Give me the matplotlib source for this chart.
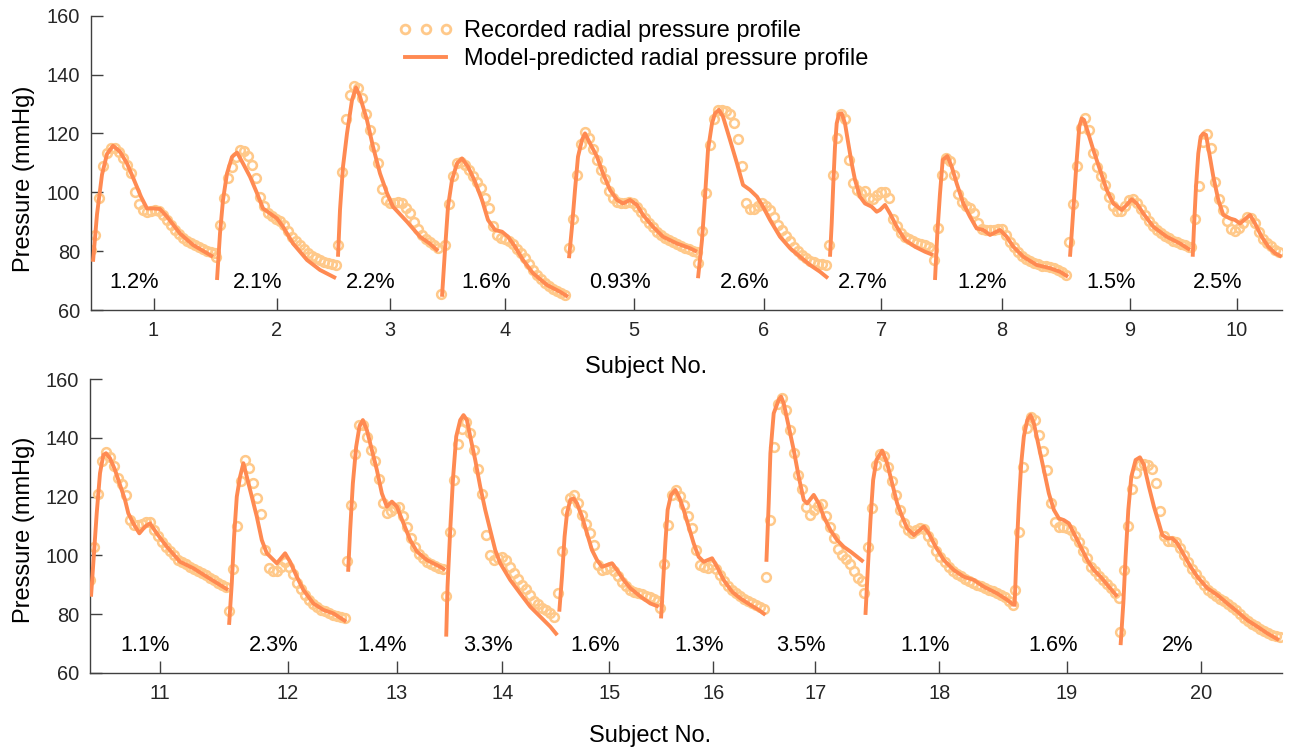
import numpy as np
import matplotlib.pyplot as plt
from matplotlib.lines import Line2D

plt.rcParams['font.family'] = ['Liberation Sans', 'DejaVu Sans']

FS = 150.0      # samples per second
REC_STEP = 4    # recorded profile kept every 4th sample

REC_COLOR = '#FFC98A'
MOD_COLOR = '#FF8A52'
INK = '#262626'

# ---------------- top row, subjects 1-10
subjects_top = [1, 2, 3, 4, 5, 6, 7, 8, 9, 10]
periods_top = [125, 122, 103, 128, 129, 131, 105, 135, 122, 91]   # samples per beat
errors_top = ['1.2%', '2.1%', '2.2%', '1.6%', '0.93%', '2.6%', '2.7%', '1.2%', '1.5%', '2.5%']

rec_s01 = [80.4, 85.5, 98, 109, 113.5, 115.2, 115, 113.7, 111.5, 109.2, 106.5, 100, 96, 94, 93.4, 93.6,
           94, 93.6, 92.3, 90.6, 89, 87.3, 85.8, 84.6, 83.6, 82.8, 82.1, 81.4, 80.8, 80.2, 79.7, 79.2]
mod_s01 = [(2, 76.4), (6, 92.5), (11, 106), (16, 113), (22, 115.8), (29, 113.8), (36, 109.8), (43, 104.2),
           (50, 98.5), (56, 94.5), (63, 94.5), (69, 94.3), (76, 91.7), (89, 86), (102, 82.1), (116, 79.3), (122, 78.1)]

rec_s02 = [78, 89, 98, 104.7, 108.5, 112, 114.2, 114, 112.3, 109.2, 104.8, 98.5, 95.3, 93, 92, 91, 90.2,
           89, 87, 84.8, 83.3, 82, 80.7, 79.5, 78.5, 77.6, 77, 76.4, 76, 75.7, 75.4]
mod_s02 = [(1, 70.2), (4, 86), (7, 97.4), (11, 106.4), (16, 112), (21, 113.5), (27, 109.8), (34, 105.3),
           (41, 99.7), (47, 94.5), (54, 92.8), (61, 91.1), (67, 88.3), (77, 82.6), (91, 77), (104, 73.6), (120, 70.8)]

rec_s03 = [82, 107, 125, 133, 136, 135.4, 132, 126.5, 121, 115.5, 110, 101, 97.5, 96.2, 96.5, 96.8, 96.2,
           94.5, 92.8, 90, 87.5, 85.5, 84, 83, 82, 81.2]
mod_s03 = [(0, 78.1), (2, 94), (5, 108.7), (9, 120), (14, 131.3), (18, 135.6), (22, 132.5), (29, 124.5),
           (35, 115.5), (42, 106.4), (49, 99.7), (55, 95.1), (69, 90), (82, 84.9), (92, 82.5), (100, 80)]

rec_s04 = [65.5, 82, 96, 105.5, 109.8, 110.4, 109.3, 107.5, 105.5, 103.5, 101.3, 98, 94.5, 88.5, 85.5, 84.3,
           84.2, 83.5, 82.3, 80.8, 79.2, 77.5, 75.5, 73.7, 72, 70.5, 69.2, 68.2, 67.3, 66.6, 65.8, 65.2]
mod_s04 = [(1, 64.5), (4, 80.4), (7, 95.1), (11, 104.2), (16, 109.8), (21, 111.5), (27, 108.7), (34, 103.6),
           (41, 97.4), (47, 90.6), (54, 87.2), (61, 86.6), (67, 84.9), (74, 81.5), (82, 77), (92, 72.5),
           (106, 68.5), (119, 66.2), (127, 64.5)]

rec_s05 = [81, 91, 106, 116.5, 120.4, 118.5, 114.6, 111, 107.6, 104.5, 100.5, 98, 96.8, 96.2, 96.5, 96.8,
           96.5, 95.1, 93.2, 91.2, 89.6, 88.2, 86.6, 85.4, 84.4, 83.8, 83, 82.3, 81.8, 81.2, 80.7, 80.2, 79.8]
mod_s05 = [(0, 77.6), (3, 88.3), (6, 100.8), (9, 112.1), (13, 117.8), (16, 120), (21, 116.6), (28, 112.1),
           (34, 106.4), (41, 100.8), (48, 97.4), (54, 96.2), (61, 97.4), (68, 95.7), (74, 92.3), (84, 88.3),
           (94, 84.9), (108, 82.6), (121, 81), (128, 79.8)]

rec_s06 = [76, 87, 99.7, 116, 124.8, 127.8, 128, 127.5, 126.5, 123.5, 118, 109, 96.5, 94.2, 94.2, 95.5,
           96.2, 95.5, 94, 91.5, 89, 87.2, 85, 83.3, 81.5, 80, 78.8, 77.6, 76.8, 76.2, 75.8, 75.5, 75.3]
mod_s06 = [(0, 70.8), (4, 83.8), (7, 98.5), (10, 114.4), (14, 123.4), (17, 126.8), (21, 128), (25, 125.7),
           (32, 117.8), (39, 109.8), (45, 102.5), (52, 100.8), (59, 98.5), (65, 95.1), (72, 90.6), (82, 84.9),
           (92, 81), (102, 78.1), (112, 75.3), (122, 73), (130, 70.8)]

rec_s07 = [82, 106, 118.5, 126.5, 125, 111, 103, 100.7, 99.8, 100.5, 98, 97.8, 99, 100, 100.2, 98, 91,
           88.5, 86.3, 84.9, 84, 83.4, 82.8, 82.4, 82.1, 81.4, 80.5]
mod_s07 = [(1, 78.1), (2.7, 89.4), (4.3, 103), (6, 115.5), (7.7, 123.4), (10, 126.6), (12.7, 126.8),
           (16, 123.4), (19.3, 116.6), (22.7, 109.8), (26, 104.2), (31, 98.5), (36, 96.2), (42.7, 95.1),
           (47.7, 93.4), (51, 94), (56, 95.7), (61, 92.8), (67.7, 88.3), (76, 83.8), (86, 81.5), (96, 79.8),
           (104, 78.7)]

rec_s08 = [77, 88, 106, 111.5, 110.5, 106, 99.5, 96.8, 95.5, 94.8, 93, 89.5, 87.6, 87.2, 87.2, 87.3, 87.6,
           87.4, 85.5, 83.2, 81.3, 79.8, 78.4, 77.3, 76.5, 75.9, 75.5, 75.1, 74.8, 74.6, 74.2, 73.6, 72.8, 72]
mod_s08 = [(1, 70.2), (3.3, 86), (6, 99.6), (8.7, 111), (13.3, 112.3), (17.7, 108.7), (22.7, 103),
           (29.3, 96.2), (36, 91.7), (42.7, 87.7), (49.3, 87.2), (56, 85.5), (66, 87.2), (72.7, 84.9),
           (79.3, 81.5), (89.3, 78.1), (102.7, 75.3), (116, 74.2), (126, 73), (134, 71.3)]

rec_s09 = [83, 96, 109, 122, 125.2, 121, 113.5, 108.5, 105.7, 102.5, 98.5, 95.2, 93.6, 93.8, 95.5, 97.3,
           97.6, 96.2, 94.2, 92.3, 90.3, 88.6, 87.2, 86, 85.1, 84.3, 83.6, 83, 82.5, 82, 81.3]
mod_s09 = [(1, 78.1), (2.7, 86), (5, 97.4), (7.7, 111), (10.3, 122.3), (12.7, 125.1), (15, 124.6),
           (19.3, 120), (24.3, 114.4), (31, 107.6), (37.7, 100.8), (44.3, 96.2), (52.7, 94), (57.7, 95.7),
           (62.7, 97.6), (67.7, 96.2), (74.3, 92.8), (84.3, 88.3), (97.7, 84.9), (111, 82.6), (121, 80.4)]

rec_s10 = [81.5, 91, 102, 117, 119.8, 115, 103.6, 97.8, 94, 90.4, 87.5, 86.8, 87.7, 89.4, 91.5, 91.2, 89.5,
           86.6, 84.2, 82.8, 81.6, 80.4, 79.6]
mod_s10 = [(1.7, 78.1), (3, 88.3), (5, 101.9), (7.3, 113.2), (9.7, 118.9), (12.3, 120), (15, 119.5),
           (18.3, 113.2), (22.3, 105.3), (27.3, 97.4), (32.3, 92.3), (39, 91.1), (44, 90.6), (49, 89.4),
           (59, 92.3), (64, 89.4), (70.7, 84.9), (77.3, 81.5), (84, 79.3), (90.7, 78.1)]

# ---------------- bottom row, subjects 11-20
subjects_bot = [11, 12, 13, 14, 15, 16, 17, 18, 19, 20]
periods_bot = [139, 118, 99, 112, 102, 106, 98, 150, 105, 162]
errors_bot = ['1.1%', '2.3%', '1.4%', '3.3%', '1.6%', '1.3%', '3.5%', '1.1%', '1.6%', '2%']

rec_s11 = [91.5, 103, 121, 132, 135.2, 133.5, 130.5, 126.5, 124.3, 120.5, 112, 110.3, 110.3, 110.7, 111.2,
           111.2, 108.5, 106.5, 104.6, 103, 101.4, 100, 98.5, 97.6, 96.9, 96.1, 95.5, 94.8, 94.1, 93.3, 92.3,
           91.5, 90.6, 89.8, 89.1]
mod_s11 = [(1, 85.9), (3.3, 97.3), (6.7, 114.3), (10, 128), (13.3, 134.2), (16, 134.8), (20, 133.1),
           (25, 129.1), (30, 124), (35, 118.9), (38.3, 114.3), (43.3, 110.9), (49.3, 107.5), (55, 109.8),
           (60, 110.9), (66.7, 107.5), (76.7, 103), (90, 97.8), (103.3, 95.6), (116.7, 92.7), (130, 89.9),
           (138, 88.2)]

rec_s12 = [81, 95.5, 110, 125.5, 132.5, 129.8, 124.5, 119.5, 114, 101.8, 95.8, 94.6, 94.8, 96, 97.8, 96,
           93.5, 90.5, 88.5, 86.5, 84.8, 83.3, 82.3, 81.4, 80.9, 80.3, 79.8, 79.4, 79, 78.6]
mod_s12 = [(0, 76.3), (2.7, 90.5), (5, 106.4), (7.7, 120), (11, 126.8), (14.3, 131.4), (17.7, 126.8),
           (22.7, 120), (27.7, 113.2), (32.7, 105.2), (37.7, 100.7), (42.7, 99), (47.7, 97.3), (56, 100.7),
           (61, 97.8), (67.7, 92.7), (74.3, 88.2), (84.3, 83.6), (94.3, 81.4), (104.3, 80.2), (117, 77.4)]

rec_s13 = [98, 117, 134.5, 144.5, 144.5, 140.2, 136, 132.3, 126, 118, 114.6, 115.2, 116.3, 116.4, 113.5,
           109.8, 106, 103, 100.6, 99, 97.8, 97, 96.4, 95.8, 95.2]
mod_s13 = [(1, 94.4), (3, 108.6), (5.7, 124.5), (9, 137), (12.3, 143.9), (15.7, 146.1), (19.7, 142.7),
           (24.7, 135.9), (29.7, 129.1), (34.7, 121.1), (39.7, 116.6), (44.7, 118.3), (49.7, 116.6),
           (56.3, 110.9), (63, 105.2), (69.7, 101.3), (79.7, 98.4), (93, 96.1), (98, 95)]

rec_s14 = [86, 108, 125.7, 138, 143, 145.3, 141.8, 136, 129.5, 121, 107, 100.1, 98.5, 99.2, 99.5, 98.5,
           96.1, 94, 91.8, 90, 88.4, 86.5, 84.6, 83.3, 82.2, 81.2, 80.2, 79]
mod_s14 = [(0, 72.3), (1.3, 89.3), (4, 108.6), (6.7, 125.7), (10, 140.5), (14, 146.1), (17.3, 147.8),
           (20.7, 146.1), (24, 140.5), (29, 132.5), (34, 123.4), (39, 115.5), (44, 108.6), (49, 101.8),
           (54, 97.3), (64, 91.6), (74, 87), (84, 82.5), (94, 79.1), (104, 75.7), (111, 72.8)]

rec_s15 = [87, 101.5, 115, 119.4, 120.4, 117.7, 113.7, 110.8, 107.5, 103.5, 96.8, 95, 95.3, 96.1, 94.8,
           92.8, 91, 89.5, 88.2, 87.6, 87.2, 86.7, 86.3, 85.9, 85.2, 84.4]
mod_s15 = [(1, 80.8), (3.7, 92.7), (6.3, 106.4), (8.7, 114.3), (12, 118.9), (15.3, 119.4), (18.7, 117.7),
           (23.7, 113.2), (28.7, 107.5), (33.7, 101.8), (38.7, 98.4), (43.7, 96.1), (48.7, 96.7), (53.7, 97.3),
           (58.7, 95), (65.3, 91.6), (72, 88.8), (82, 86), (92, 83.6), (100.3, 82.5)]

rec_s16 = [82, 97, 110.5, 120.5, 122.2, 120.3, 117.3, 113.5, 109.2, 101.8, 96.8, 95.9, 95.8, 96.6, 95.2,
           93.2, 91.3, 89.6, 88.1, 87.1, 86.1, 85.2, 84.4, 83.7, 83, 82.3, 81.6]
mod_s16 = [(0.7, 78.5), (2.7, 90.5), (5, 104.1), (7.3, 115.5), (10.7, 120.6), (15, 122.3), (19.3, 119.4),
           (23.3, 115.5), (28.3, 109.8), (33.3, 104.1), (38.3, 99.5), (43.3, 97.8), (51.7, 99), (56.7, 96.1),
           (63.3, 91.6), (71.7, 87.6), (80, 85.3), (90, 83.1), (98.3, 81.4), (105, 79.7)]

rec_s17 = [92.5, 112, 137, 151.5, 153.6, 149.5, 142.7, 135, 127.5, 122.5, 116.6, 113.6, 115.4, 116.9, 117.5,
           113.5, 109.5, 105.9, 102.2, 100, 98.7, 97.1, 94.7, 92.4, 91.2]
mod_s17 = [(0, 97.8), (2.3, 117.7), (4, 134.8), (7.3, 148.4), (12.3, 153), (14.7, 154.1), (17.3, 151.8),
           (22.3, 143.9), (27.3, 135.9), (32.3, 126.8), (37.3, 118.9), (40.7, 117.7), (47.3, 120.6),
           (52.3, 117.7), (57.3, 113.2), (64, 108.6), (70.7, 105.2), (77.3, 102.9), (84, 101.3), (90.7, 99.5),
           (97, 97.8)]

rec_s18 = [87, 103, 116, 130.8, 134.5, 134, 130, 125.5, 120.7, 115.5, 111, 108.7, 107.7, 108.5, 109.2, 109,
           106.5, 104.5, 101.4, 99.3, 97.6, 96, 94.8, 93.8, 93, 92.1, 91.4, 90.7, 90, 89.4, 88.8, 88.3, 87.8,
           87.3, 86.6, 85.8, 84.4, 83]
mod_s18 = [(1, 79.7), (3.3, 95), (6, 112), (8.7, 125.7), (12, 132.5), (17.7, 135.7), (22.7, 131.4),
           (27.7, 124.5), (32.7, 117.7), (37.7, 113.2), (42.7, 109.2), (49.3, 106.9), (59.3, 109.8),
           (64.3, 107.5), (71, 103), (79.3, 98.4), (89.3, 95), (99.3, 92.7), (109.3, 91.6), (119.3, 89.3),
           (132.7, 87), (142.7, 84.8), (149, 83.1)]

rec_s19 = [88.2, 108, 130, 143.5, 147.3, 146, 141, 135.5, 129, 117.7, 111.5, 109.8, 109.8, 109.2, 108.6,
           106.5, 104.5, 101.6, 99, 96.1, 94.7, 93, 91.5, 90.4, 89, 87.3, 85.5]
mod_s19 = [(0, 82.5), (2, 100.7), (4.3, 117.7), (6.7, 131.4), (9.3, 140.5), (12.7, 146.1), (16, 147.8),
           (19.3, 145), (24.3, 137), (29.3, 129.1), (34.3, 121.1), (39.3, 115.5), (44.3, 112.6), (49.3, 112),
           (54.3, 110.9), (59.3, 107.5), (66, 103), (72.7, 98.4), (79.3, 95), (86, 92.7), (94.3, 89.3),
           (102.7, 85.9)]

rec_s20 = [74, 95, 110, 122.5, 128, 130.8, 131, 130.8, 129.5, 124.5, 115, 106.5, 104.8, 105, 104.5, 102.5,
           100, 97.8, 95.3, 93.5, 91.5, 89.8, 88.3, 87, 86, 85, 84.3, 83.5, 82.4, 81.2, 80, 78.8, 77.7, 76.7,
           75.8, 74.9, 74.1, 73.4, 72.8, 72.5, 72.3]
mod_s20 = [(1, 69.4), (3.7, 83.6), (6, 99.5), (8.7, 115.5), (11.7, 126.8), (16, 132.5), (20.3, 133.4),
           (24.3, 130.8), (29.3, 123.4), (34.3, 116.6), (39.3, 110.9), (42.7, 106.9), (47.7, 105.8),
           (52.7, 105.8), (57.7, 104.1), (64.3, 100.1), (71, 96.1), (77.7, 92.7), (87.7, 88.8), (97.7, 86.5),
           (107.7, 83.6), (117.7, 80.8), (127.7, 77.9), (137.7, 75.7), (147.7, 73.4), (159.3, 71.1)]

rec_top = [rec_s01, rec_s02, rec_s03, rec_s04, rec_s05, rec_s06, rec_s07, rec_s08, rec_s09, rec_s10]
mod_top = [mod_s01, mod_s02, mod_s03, mod_s04, mod_s05, mod_s06, mod_s07, mod_s08, mod_s09, mod_s10]
rec_bot = [rec_s11, rec_s12, rec_s13, rec_s14, rec_s15, rec_s16, rec_s17, rec_s18, rec_s19, rec_s20]
mod_bot = [mod_s11, mod_s12, mod_s13, mod_s14, mod_s15, mod_s16, mod_s17, mod_s18, mod_s19, mod_s20]


def draw_panel(ax, subjects, periods, errors, recs, mods, text_shift):
    offset = 0
    ticks = []
    for subj, per, err, rec, mod in zip(subjects, periods, errors, recs, mods):
        t_rec = (offset + np.arange(len(rec)) * REC_STEP) / FS
        ax.plot(t_rec, rec, 'o', mfc='none', mec=REC_COLOR, ms=6.3, mew=1.8, zorder=2)
        mod = np.array(mod)
        ax.plot((offset + mod[:, 0]) / FS, mod[:, 1], '-', color=MOD_COLOR, lw=2.8,
                solid_joinstyle='round', solid_capstyle='butt', zorder=3)
        mid = (offset + per / 2) / FS
        ticks.append(mid)
        ax.text(mid - text_shift / FS, 67.4, err, ha='left', va='baseline', fontsize=15.7, color='black')
        offset += per
    ax.set_xlim(0, offset / FS)
    ax.set_ylim(60, 160)
    ax.set_xticks(ticks)
    ax.set_xticklabels([str(s) for s in subjects])
    ax.set_yticks(np.arange(60, 161, 20))
    for side in ['top', 'right']:
        ax.spines[side].set_visible(False)
    for side in ['left', 'bottom']:
        ax.spines[side].set_color('#404040')
        ax.spines[side].set_linewidth(1.0)
    ax.tick_params(direction='in', length=8.5, width=1, color='#404040', labelcolor=INK,
                   labelsize=14.4, pad=8)
    ax.set_xlabel('Subject No.', fontsize=17, color='black')
    ax.set_ylabel('Pressure (mmHg)', fontsize=17, color='black')


W, H = 1293, 749
fig = plt.figure(figsize=(W / 100, H / 100), dpi=100)
ax1 = fig.add_axes([91 / W, 1 - 310 / H, 1191 / W, 294.3 / H])
ax2 = fig.add_axes([90 / W, 1 - 672.7 / H, 1191.7 / W, 293.4 / H])

draw_panel(ax1, subjects_top, periods_top, errors_top, rec_top, mod_top, 44)
draw_panel(ax2, subjects_bot, periods_bot, errors_bot, rec_bot, mod_bot, 39)

ax1.xaxis.set_label_coords(0.466, -0.158)
ax2.xaxis.set_label_coords(0.470, -0.178)
ax1.yaxis.set_label_coords(-0.047, 0.445)
ax2.yaxis.set_label_coords(-0.046, 0.486)

handles = [Line2D([], [], ls='none', marker='o', mfc='none', mec=REC_COLOR, ms=6.3, mew=2.0),
           Line2D([], [], color=MOD_COLOR, lw=2.8)]
fig.legend(handles, ['Recorded radial pressure profile', 'Model-predicted radial pressure profile'],
           loc='upper left', bbox_to_anchor=(398 / W, 1 - 20 / H), frameon=False, fontsize=17,
           numpoints=3, handlelength=2.35, handletextpad=0.45, labelspacing=0.25,
           borderpad=0, borderaxespad=0)

fig.savefig('out.png', dpi=100)
